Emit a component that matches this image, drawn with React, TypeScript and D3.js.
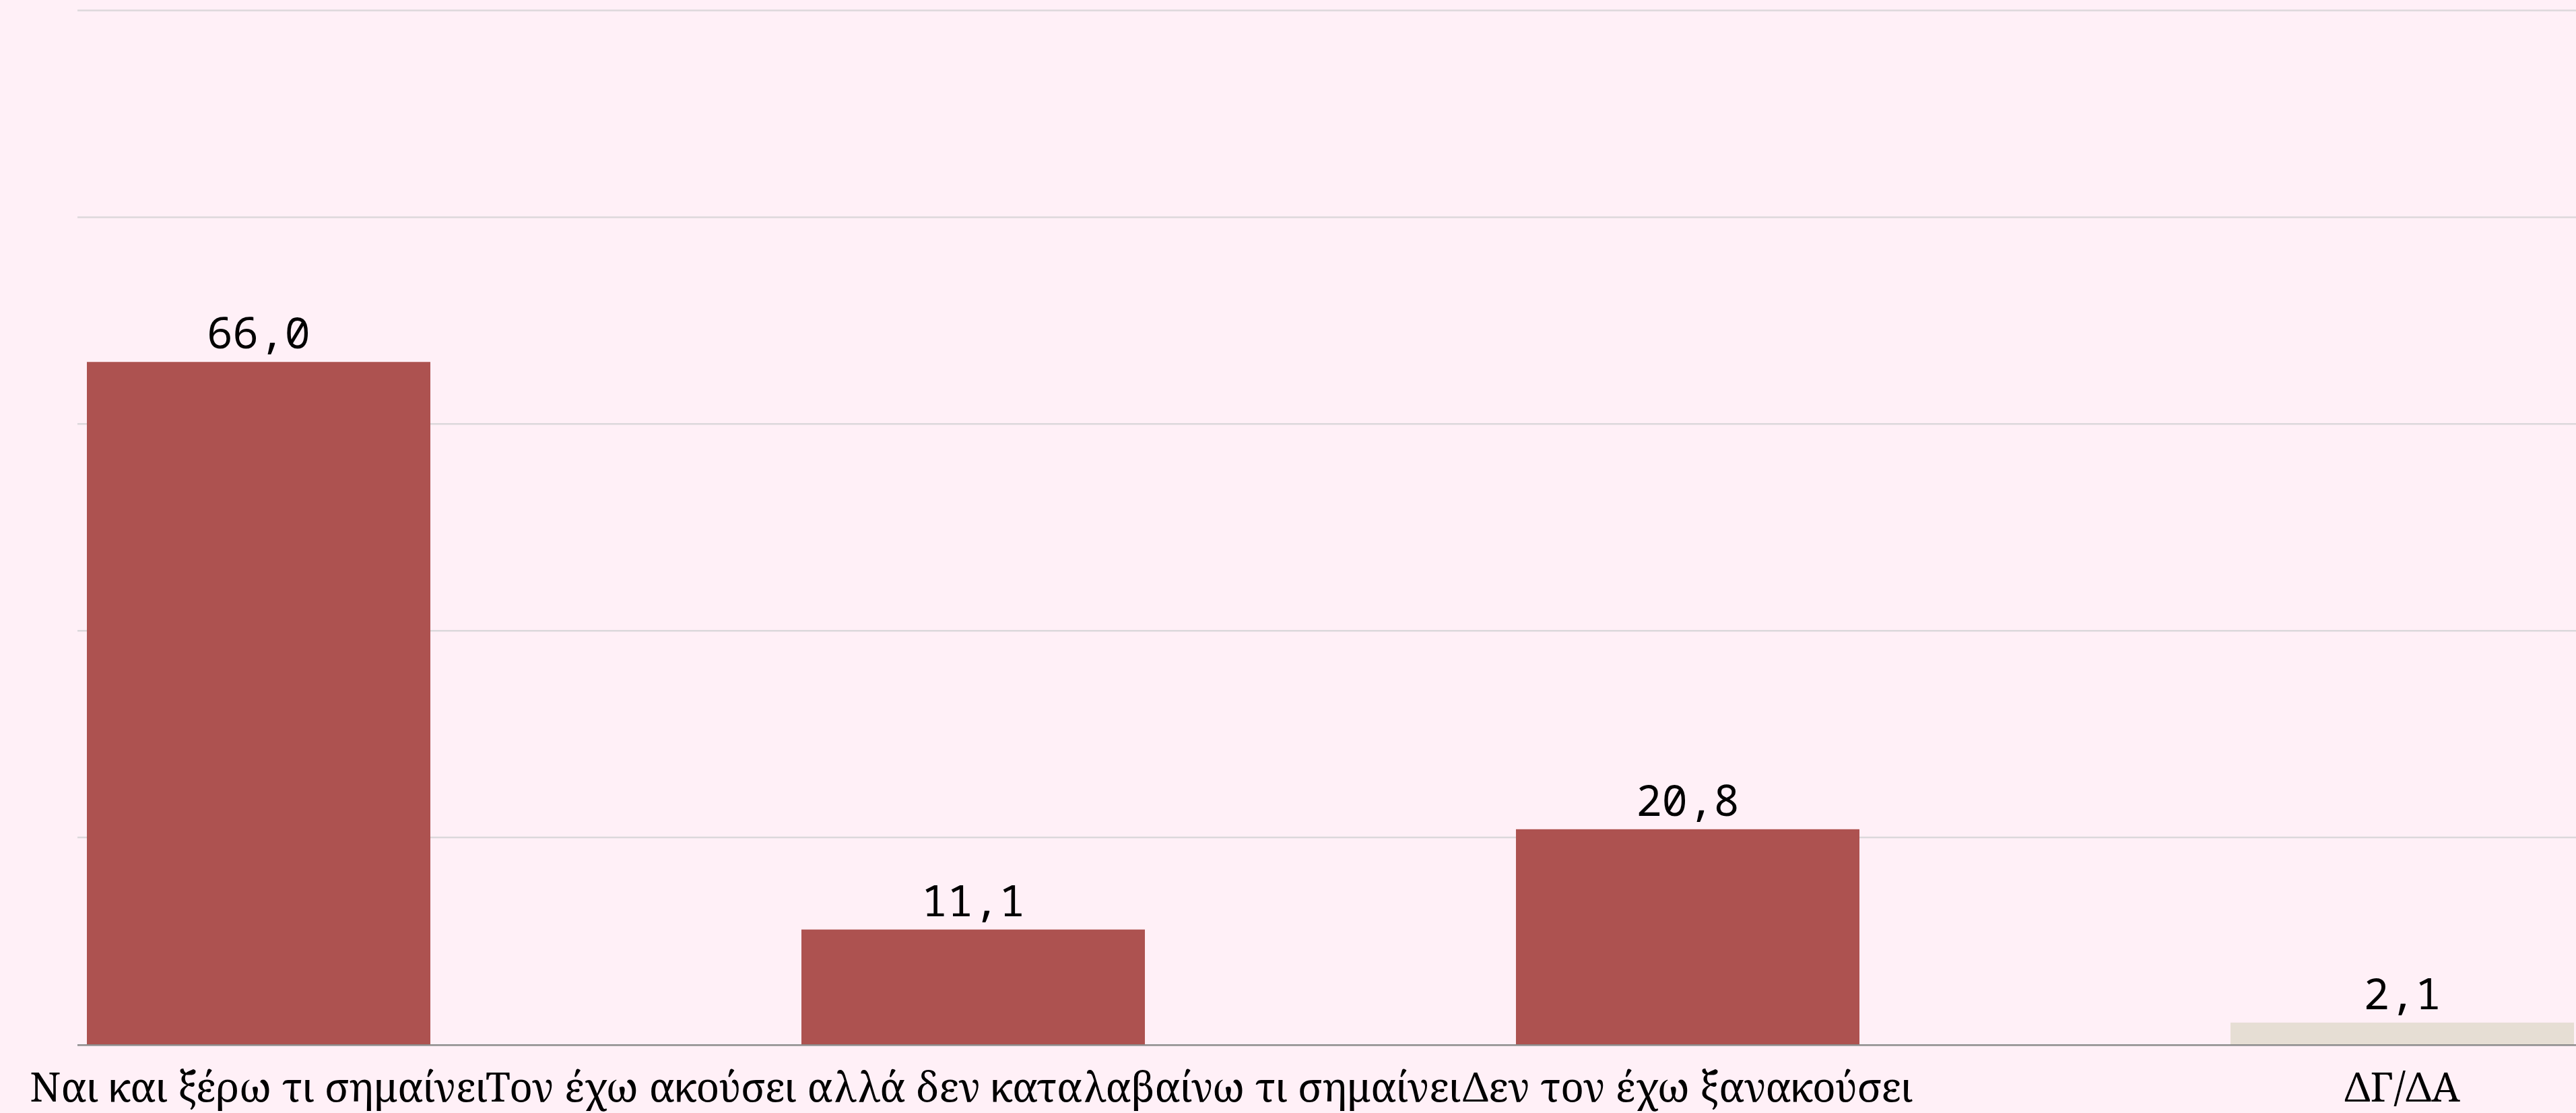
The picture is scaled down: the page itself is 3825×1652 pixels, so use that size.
import React from "react";
import * as d3 from "d3";

const categories = [
  "Ναι και ξέρω τι σημαίνει",
  "Τον έχω ακούσει αλλά δεν καταλαβαίνω τι σημαίνει",
  "Δεν τον έχω ξανακούσει",
  "ΔΓ/ΔΑ",
];
const values = [66.0, 11.1, 20.8, 2.1];
const barColors = ["#ad5250", "#ad5250", "#ad5250", "#e6ded4"];
const yTicks = [0, 20, 40, 60, 80, 100];

const W = 3825;
const H = 1652;

export default function App() {
  const left = 115;
  const top = 15.5;
  const bottom = 1550;
  const x = d3
    .scaleBand<string>()
    .domain(categories)
    .range([left, 3836])
    .paddingInner(0.5193)
    .paddingOuter(0.0132);
  const y = d3.scaleLinear().domain([0, 100]).range([bottom, top]);
  const fmt = (v: number) => v.toFixed(1).replace(".", ",");

  return (
    <svg
      width={W}
      height={H}
      style={{ position: "absolute", left: 0, top: 0, display: "block" }}
    >
      <rect x={0} y={0} width={W} height={H} fill="#fff0f7" />
      {yTicks
        .filter((t) => t > 0)
        .map((t) => (
          <line
            key={t}
            x1={left}
            x2={W}
            y1={y(t)}
            y2={y(t)}
            stroke="#dcd8db"
            strokeWidth={2.5}
          />
        ))}
      {categories.map((c, i) => (
        <rect
          key={c}
          x={x(c)}
          y={y(values[i])}
          width={x.bandwidth()}
          height={y(0) - y(values[i])}
          fill={barColors[i]}
        />
      ))}
      <line
        x1={left}
        x2={W}
        y1={bottom + 1.3}
        y2={bottom + 1.3}
        stroke="#8c8c8c"
        strokeWidth={2.6}
      />
      {categories.map((c, i) => (
        <text
          key={"v" + c}
          x={(x(c) as number) + x.bandwidth() / 2}
          y={y(values[i]) - 20}
          textAnchor="middle"
          fontFamily="'Noto Sans Mono', 'DejaVu Sans Mono', monospace"
          fontSize={64}
          style={{ fontVariantNumeric: "slashed-zero" }}
          fill="#000"
        >
          {fmt(values[i])}
        </text>
      ))}
      {categories.map((c) => (
        <text
          key={"c" + c}
          x={(x(c) as number) + x.bandwidth() / 2}
          y={1635}
          textAnchor="middle"
          fontFamily="'Noto Serif', 'DejaVu Serif', serif"
          fontSize={60.3}
          fill="#000"
        >
          {c}
        </text>
      ))}
    </svg>
  );
}
